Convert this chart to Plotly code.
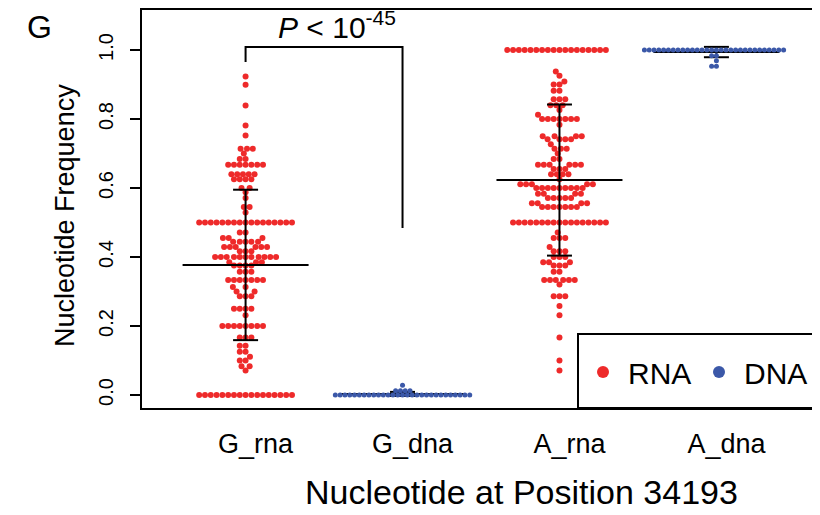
import numpy as np
import plotly.graph_objects as go

# ---------------- data ----------------
categories = ["G_rna", "G_dna", "A_rna", "A_dna"]
x_title = "Nucleotide at Position 34193"
y_title = "Nucleotide Frequency"

g_rna_values = [0.923, 0.899, 0.839, 0.781, 0.752, 0.714, 0.700, 0.684, 0.667, 0.640,
                0.625, 0.600, 0.588, 0.571, 0.545, 0.529, 0.500, 0.471, 0.455, 0.444,
                0.429, 0.417, 0.400, 0.385, 0.375, 0.357, 0.333, 0.313, 0.300, 0.286,
                0.250, 0.231, 0.200, 0.167, 0.143, 0.125, 0.111, 0.100, 0.083, 0.071,
                0.000]
g_rna_counts = [1, 1, 1, 1, 1, 3, 1, 2, 7, 5,
                4, 2, 1, 1, 2, 1, 17, 2, 3, 5,
                6, 3, 11, 3, 4, 3, 7, 2, 2, 3,
                4, 1, 8, 3, 2, 2, 1, 2, 2, 1,
                17]

g_dna_values = [0.000, 0.0125, 0.028]
g_dna_counts = [29, 4, 1]

a_rna_values = [1.000, 0.938, 0.925, 0.909, 0.900, 0.882, 0.857, 0.840, 0.826, 0.812,
                0.800, 0.783, 0.750, 0.741, 0.727, 0.714, 0.700, 0.684, 0.667, 0.655,
                0.640, 0.625, 0.611, 0.600, 0.583, 0.571, 0.556, 0.545, 0.500, 0.471,
                0.455, 0.429, 0.417, 0.400, 0.385, 0.375, 0.357, 0.333, 0.320, 0.286,
                0.258, 0.231, 0.167, 0.100, 0.071]
a_rna_counts = [18, 1, 1, 1, 2, 2, 3, 3, 1, 1,
                7, 1, 4, 4, 1, 3, 1, 2, 6, 3,
                4, 1, 5, 9, 4, 5, 4, 7, 17, 1,
                3, 1, 3, 3, 3, 3, 2, 6, 1, 3,
                1, 1, 1, 1, 1]

a_dna_values = [1.000, 0.983, 0.969, 0.953]
a_dna_counts = [30, 2, 1, 2]

# group summary (mean and sd)
group_means = [0.377, 0.003, 0.623, 0.994]
group_sds = [0.218, 0.006, 0.219, 0.015]

y_tick_values = [0.0, 0.2, 0.4, 0.6, 0.8, 1.0]
y_tick_labels = ["0.0", "0.2", "0.4", "0.6", "0.8", "1.0"]

# significance bracket
bracket_groups = [1, 2]
bracket_top = 1.009
bracket_left_end = 0.965
bracket_right_end = 0.484

RED = "#EE2A2A"
BLUE = "#3B58A8"
FONT = "Liberation Sans, Arial, Helvetica, sans-serif"

# ---------------- geometry ----------------
# the page body has an 8px margin, so the figure is drawn 8px in from the corner
W, H = 812, 507
ML, MR, MT, MB = 134, 0, 2, 107
PW, PH = W - ML - MR, H - MT - MB
PLOT_LEFT, PLOT_BOTTOM = 142, 408          # page pixels
X_RANGE = [0.34, 4.66]
Y_RANGE = [-0.0377, 1.1159]
px_per_x = PW / (X_RANGE[1] - X_RANGE[0])
px_per_y = PH / (Y_RANGE[1] - Y_RANGE[0])
LABEL_SHIFT = 10 / px_per_x                # tick labels sit a little right of the columns


def paper_x(px):
    return (px - PLOT_LEFT) / PW


def paper_y(py):
    return (PLOT_BOTTOM - py) / PH


def expand(values, counts):
    out = []
    for v, c in zip(values, counts):
        out += [v] * c
    return np.array(out, dtype=float)


def swarm_offsets(vals, spacing):
    """Beeswarm 'swarm' placement in pixel space, returned in x-axis units."""
    order = np.argsort(vals, kind="stable")
    placed = []
    offs = np.zeros(len(vals))
    for i in order:
        y = vals[i] * px_per_y
        cands = [0.0]
        for (px, py) in placed:
            dy = abs(py - y)
            if dy < spacing:
                dx = np.sqrt(spacing ** 2 - dy ** 2)
                cands += [px - dx, px + dx]
        cands.sort(key=lambda c: (round(abs(c), 6)))
        chosen = 0.0
        for c in cands:
            if all((c - px) ** 2 + (y - py) ** 2 >= spacing ** 2 - 1e-6 for (px, py) in placed):
                chosen = c
                break
        placed.append((chosen, y))
        offs[i] = chosen
    return offs / px_per_x


groups = [
    (1, expand(g_rna_values, g_rna_counts), "RNA"),
    (2, expand(g_dna_values, g_dna_counts), "DNA"),
    (3, expand(a_rna_values, a_rna_counts), "RNA"),
    (4, expand(a_dna_values, a_dna_counts), "DNA"),
]

rna_x, rna_y, dna_x, dna_y = [], [], [], []
for pos, vals, kind in groups:
    if kind == "RNA":
        offs = swarm_offsets(vals, 5.8)
        rna_x += list(pos + offs)
        rna_y += list(vals)
    else:
        offs = swarm_offsets(vals, 4.8)
        dna_x += list(pos + offs)
        dna_y += list(vals)

fig = go.Figure()

fig.add_trace(go.Scatter(
    x=rna_x, y=rna_y, mode="markers", name="RNA",
    marker=dict(color=RED, size=6, line=dict(width=0)),
))

# mean / sd lines
wide = 63 / px_per_x
narrow = 12.5 / px_per_x
lx, ly = [], []
for i, (m, s) in enumerate(zip(group_means, group_sds)):
    p = i + 1
    lx += [p - wide, p + wide, None]
    ly += [m, m, None]
    lx += [p - narrow, p + narrow, None]
    ly += [m + s, m + s, None]
    lx += [p - narrow, p + narrow, None]
    ly += [m - s, m - s, None]
    lx += [p, p, None]
    ly += [m - s, m + s, None]
fig.add_trace(go.Scatter(x=lx, y=ly, mode="lines", showlegend=False,
                         line=dict(color="black", width=2), hoverinfo="skip"))

fig.add_trace(go.Scatter(
    x=dna_x, y=dna_y, mode="markers", name="DNA",
    marker=dict(color=BLUE, size=5, line=dict(width=0)),
))

# bracket
b0, b1 = bracket_groups
fig.add_trace(go.Scatter(
    x=[b0, b0, b1, b1], y=[bracket_left_end, bracket_top, bracket_top, bracket_right_end],
    mode="lines", showlegend=False, line=dict(color="black", width=2), hoverinfo="skip"))

fig.add_annotation(x=(b0 + b1) / 2 + 13 / px_per_x, y=1.073, xref="x", yref="y",
                   xanchor="center", yanchor="middle",
                   text="<i>P</i> < 10<sup>-45</sup>", showarrow=False,
                   font=dict(family=FONT, size=30, color="black"))

fig.add_annotation(x=paper_x(40), y=paper_y(27), xref="paper", yref="paper",
                   xanchor="center", yanchor="middle", text="G", showarrow=False,
                   font=dict(family=FONT, size=32, color="black"))

# axis titles (the original plot region is wider than the visible crop)
fig.add_annotation(x=paper_x(521), y=paper_y(492), xref="paper", yref="paper",
                   xanchor="center", yanchor="middle", text=x_title, showarrow=False,
                   font=dict(family=FONT, size=34, color="black"))
fig.add_annotation(x=paper_x(65), y=paper_y(216), xref="paper", yref="paper",
                   xanchor="center", yanchor="middle", text=y_title, showarrow=False,
                   textangle=-90, font=dict(family=FONT, size=27, color="black"))

# legend frame
fig.add_shape(type="rect", xref="paper", yref="paper",
              x0=paper_x(578), x1=1.05, y0=0, y1=paper_y(334),
              line=dict(color="black", width=2), fillcolor="white", layer="above")

fig.update_layout(
    width=W, height=H,
    margin=dict(l=ML, r=MR, t=MT, b=MB, pad=0, autoexpand=False),
    paper_bgcolor="white", plot_bgcolor="white",
    font=dict(family=FONT, color="black"),
    showlegend=True,
    legend=dict(orientation="h", x=paper_x(578), xanchor="left",
                y=paper_y(372), yanchor="middle",
                font=dict(family=FONT, size=30, color="black"),
                bgcolor="rgba(0,0,0,0)", borderwidth=0,
                itemsizing="constant", itemwidth=40,
                entrywidth=61, entrywidthmode="pixels"),
    xaxis=dict(range=X_RANGE, tickmode="array",
               tickvals=[i + 1 + LABEL_SHIFT for i in range(len(categories))],
               ticktext=categories,
               showgrid=False, zeroline=False, showline=True, linecolor="black", linewidth=2,
               mirror=True, ticks="outside", ticklen=11, tickcolor="rgba(0,0,0,0)",
               automargin=False,
               tickfont=dict(family=FONT, size=27)),
    yaxis=dict(range=Y_RANGE, tickmode="array", tickvals=y_tick_values, ticktext=y_tick_labels,
               showgrid=False, zeroline=False, showline=True, linecolor="black", linewidth=2,
               ticks="outside", ticklen=10, tickwidth=2, tickcolor="black", tickangle=-90,
               ticklabelstandoff=9, automargin=False,
               tickfont=dict(family=FONT, size=20)),
)

fig.write_html("out.html")
